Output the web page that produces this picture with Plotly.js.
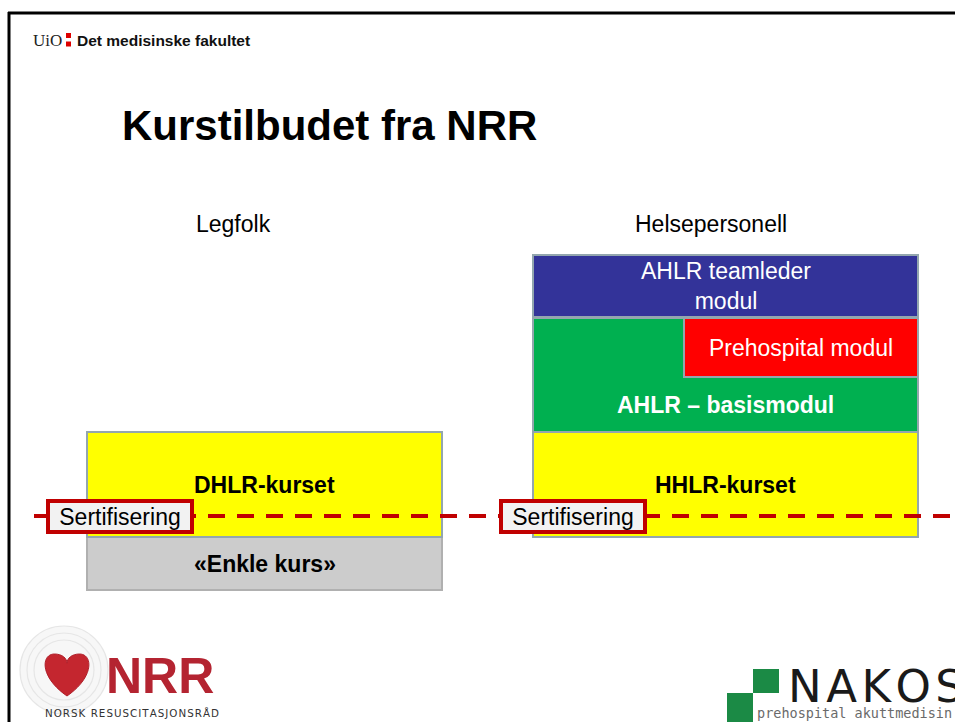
<!DOCTYPE html>
<html>
<head>
<meta charset="utf-8">
<script src="https://cdn.plot.ly/plotly-3.0.1.min.js"></script>
<style>html,body{margin:0;padding:0;background:#fff}#chart{width:955px;height:722px}</style>
</head>
<body>
<div id="chart"></div>
<script>
// ---- data ----
const columnNames = ["Legfolk", "Helsepersonell"];
const blockNames = ["«Enkle kurs»", "DHLR-kurset", "HHLR-kurset", "AHLR – basismodul", "Prehospital modul", "AHLR teamleder<br>modul"];
const blockLeft   = [87, 87, 533, 533, 684, 533];
const blockRight  = [442, 442, 918, 918, 918, 918];
const blockBottom = [132, 185, 185, 290, 345, 405];
const blockTop    = [185, 290, 290, 404, 404, 467];
const certLabel = "Sertifisering";
const certLevel = 206;

// ---- styles ----
const blockColors = ["#cccccc", "#ffff00", "#ffff00", "#00b050", "#ff0000", "#333399"];
const blockLines  = ["#b0b0b0", "#93a6ae", "#93a6ae", "#93a6ae", "#93a6ae", "#93a6ae"];
const blockTextColor = ["#000", "#000", "#000", "#fff", "#fff", "#fff"];
const blockBold = [true, true, true, true, false, false];
const H = 722, W = 955;
const P = y => H - y; // pixel row -> axis value
const HS = "\u200A";

const xs = blockLeft.map((l, i) => (l + blockRight[i]) / 2);
const ws = blockLeft.map((l, i) => blockRight[i] - l);
const hs = blockBottom.map((b, i) => blockTop[i] - b);

const traces = [{
  type: "bar", x: xs, y: hs, base: blockBottom, width: ws,
  marker: {color: blockColors, line: {color: blockLines, width: 2}},
  hoverinfo: "skip", showlegend: false
}, {
  type: "scatter", mode: "lines", x: [34, W], y: [certLevel, certLevel],
  line: {color: "#c00000", width: 4, dash: "17px,12px"},
  hoverinfo: "skip", showlegend: false
}];

const ann = [];
blockNames.forEach((name, i) => {
  let cy = (blockBottom[i] + blockTop[i]) / 2;
  if (i === 3) cy = (blockBottom[3] + blockBottom[4]) / 2;
  ann.push({x: xs[i], y: cy, xref: "x", yref: "y", showarrow: false,
    text: blockBold[i] ? "<b>" + name + "</b>" : name,
    font: {family: "Liberation Sans, Arial", size: 23, color: blockTextColor[i]},
    xanchor: "center", yanchor: "middle"});
});
[0, 1].forEach(c => {
  const l = c === 0 ? blockLeft[1] : blockLeft[2];
  const r = c === 0 ? blockRight[1] : blockRight[2];
  ann.push({x: (l + r) / 2 - (c === 0 ? 31 : 15), y: P(224), xref: "x", yref: "y", showarrow: false,
    text: columnNames[c], font: {family: "Liberation Sans, Arial", size: 23, color: "#000"},
    xanchor: "center", yanchor: "middle"});
});
[120, 573].forEach(cx => {
  ann.push({x: cx, y: certLevel, xref: "x", yref: "y", showarrow: false, text: certLabel,
    font: {family: "Liberation Sans, Arial", size: 23, color: "#000"},
    bgcolor: "#f2f2f2", bordercolor: "#c00000", borderwidth: 4, borderpad: 0,
    width: 140, height: 27, xanchor: "center", yanchor: "middle"});
});
ann.push({x: 120, y: P(125), xref: "x", yref: "y", showarrow: false, text: "<b>Kurstilbudet fra NRR</b>",
  font: {family: "Liberation Sans, Arial", size: 42, color: "#000"}, xanchor: "left", yanchor: "middle"});
ann.push({x: 31, y: P(40), xref: "x", yref: "y", showarrow: false, text: "UiO",
  font: {family: "Liberation Serif, Times New Roman", size: 17, color: "#222"}, xanchor: "left", yanchor: "middle"});
ann.push({x: 75, y: P(40), xref: "x", yref: "y", showarrow: false, text: "<b>Det medisinske fakultet</b>",
  font: {family: "Liberation Sans, Arial", size: 15.5, color: "#111"}, xanchor: "left", yanchor: "middle"});
ann.push({x: 104, y: P(676), xref: "x", yref: "y", showarrow: false, text: "<b>NRR</b>",
  font: {family: "Liberation Sans, Arial", size: 50, color: "#b42431"}, xanchor: "left", yanchor: "middle"});
ann.push({x: 132, y: P(713), xref: "x", yref: "y", showarrow: false,
  text: "NORSK RESUSCITASJONSRÅD".split("").join(HS),
  font: {family: "DejaVu Sans, Arial", size: 10.3, color: "#333"}, xanchor: "center", yanchor: "middle"});
ann.push({x: 786, y: P(686), xref: "x", yref: "y", showarrow: false, text: "NAKOS".split("").join(HS),
  font: {family: "DejaVu Sans, Arial", size: 45, color: "#1a1a1a"}, xanchor: "left", yanchor: "middle"});
ann.push({x: 755, y: P(713), xref: "x", yref: "y", showarrow: false, text: "prehospital akuttmedisin",
  font: {family: "DejaVu Sans Mono, monospace", size: 13.5, color: "#6a6a6a"}, xanchor: "left", yanchor: "middle"});

const shapes = [];
shapes.push({type: "line", xref: "x", yref: "y", x0: 8, x1: W, y0: P(13), y1: P(13), line: {color: "#000", width: 3}});
shapes.push({type: "line", xref: "x", yref: "y", x0: 9, x1: 9, y0: P(12), y1: 0, line: {color: "#000", width: 3}});
[35.5, 44].forEach(yy => shapes.push({type: "rect", xref: "x", yref: "y", x0: 66, x1: 71, y0: P(yy + 2.5), y1: P(yy - 2.5),
  fillcolor: "#dd0000", line: {width: 0}}));
[44, 37, 30].forEach((r, k) => shapes.push({type: "circle", xref: "x", yref: "y",
  x0: 64 - r, x1: 64 + r, y0: P(670 + r), y1: P(670 - r),
  fillcolor: k === 0 ? "#f7f7f7" : "rgba(0,0,0,0)", line: {color: "#e6e6e6", width: 1.2}}));
function heart(cx, yt, yb, w) {
  const h = yb - yt;
  const f = (x, y) => x.toFixed(1) + "," + P(y).toFixed(1);
  return "M" + f(cx, yb) +
    " C" + f(cx - 0.55 * w, yb - 0.45 * h) + " " + f(cx - 0.52 * w, yt) + " " + f(cx - 0.25 * w, yt) +
    " C" + f(cx - 0.1 * w, yt) + " " + f(cx, yt + 0.1 * h) + " " + f(cx, yt + 0.22 * h) +
    " C" + f(cx, yt + 0.1 * h) + " " + f(cx + 0.1 * w, yt) + " " + f(cx + 0.25 * w, yt) +
    " C" + f(cx + 0.52 * w, yt) + " " + f(cx + 0.55 * w, yb - 0.45 * h) + " " + f(cx, yb) + " Z";
}
shapes.push({type: "path", xref: "x", yref: "y", path: heart(67, 654, 696, 50), fillcolor: "#c4262f", line: {color: "#b01f2a", width: 1}});
shapes.push({type: "rect", xref: "x", yref: "y", x0: 753, x1: 779, y0: P(693), y1: P(669), fillcolor: "#1b8a45", line: {width: 0}});
shapes.push({type: "rect", xref: "x", yref: "y", x0: 727, x1: 753, y0: 0, y1: P(693), fillcolor: "#1b8a45", line: {width: 0}});

const layout = {
  width: W, height: H, margin: {l: 0, r: 0, t: 0, b: 0},
  paper_bgcolor: "#fff", plot_bgcolor: "#fff", barmode: "overlay", showlegend: false,
  xaxis: {range: [0, W], visible: false, fixedrange: true},
  yaxis: {range: [0, H], visible: false, fixedrange: true},
  annotations: ann, shapes: shapes
};
Plotly.newPlot("chart", traces, layout, {displayModeBar: false, staticPlot: true});
</script>
</body>
</html>
